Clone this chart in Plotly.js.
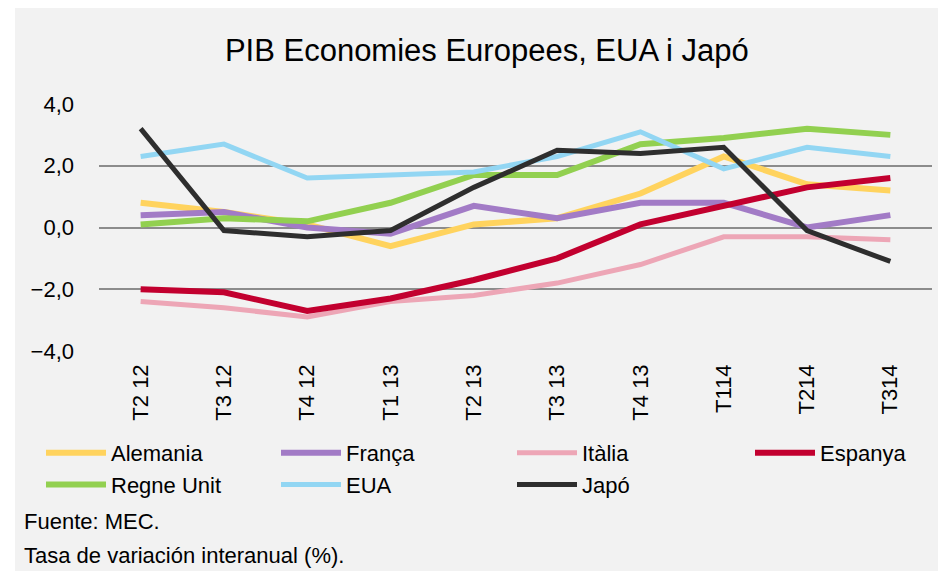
<!DOCTYPE html>
<html>
<head>
<meta charset="utf-8">
<script src="https://cdn.plot.ly/plotly-3.0.1.min.js"></script>
<style>html,body{margin:0;padding:0;background:#fff;}#chart{width:938px;height:571px;}</style>
</head>
<body>
<div id="chart"></div>
<script>
var categories = ['T2 12','T3 12','T4 12','T1 13','T2 13','T3 13','T4 13','T114','T214','T314'];
var seriesNames = ['Alemania','França','Itàlia','Espanya','Regne Unit','EUA','Japó'];
var alemania = [0.8, 0.5, 0.1, -0.6, 0.1, 0.3, 1.1, 2.3, 1.4, 1.2];
var franca   = [0.4, 0.5, 0.0, -0.2, 0.7, 0.3, 0.8, 0.8, 0.0, 0.4];
var italia   = [-2.4, -2.6, -2.9, -2.4, -2.2, -1.8, -1.2, -0.3, -0.3, -0.4];
var espanya  = [-2.0, -2.1, -2.7, -2.3, -1.7, -1.0, 0.1, 0.7, 1.3, 1.6];
var regneUnit= [0.1, 0.3, 0.2, 0.8, 1.7, 1.7, 2.7, 2.9, 3.2, 3.0];
var eua      = [2.3, 2.7, 1.6, 1.7, 1.8, 2.3, 3.1, 1.9, 2.6, 2.3];
var japo     = [3.2, -0.1, -0.3, -0.1, 1.3, 2.5, 2.4, 2.6, -0.1, -1.1];
var yTicks = [-4, -2, 0, 2, 4];

var values = [alemania, franca, italia, espanya, regneUnit, eua, japo];
var colors = ['#FFD35E', '#A27BC6', '#EDA6B6', '#C2002F', '#92D050', '#92D6F3', '#2E2E2E'];
var widths = [6, 6, 5, 6, 6, 5, 5];
// legend column of each series (4 columns, 2 rows as in the reference)
var legendIds = ['legend', 'legend2', 'legend3', 'legend4', 'legend', 'legend2', 'legend3'];

var FONT = 'Liberation Sans, Arial, sans-serif';

var traces = seriesNames.map(function(name, i){
  return {
    type: 'scatter', mode: 'lines', name: name,
    x: categories, y: values[i],
    line: {color: colors[i], width: widths[i]},
    legend: legendIds[i],
    hoverinfo: 'x+y+name'
  };
});

function legendAt(px) {
  return {
    orientation: 'v',
    x: (px - 99) / 833, xanchor: 'left',
    y: (351 - 432) / 247, yanchor: 'top',
    itemwidth: 60,
    bgcolor: 'rgba(0,0,0,0)',
    borderwidth: 0,
    font: {family: FONT, size: 22, color: '#000'},
    traceorder: 'normal'
  };
}

var layout = {
  width: 938, height: 571,
  margin: {l: 99, r: 6, t: 104, b: 220, pad: 0},
  paper_bgcolor: '#ffffff',
  plot_bgcolor: 'rgba(0,0,0,0)',
  separators: ',.',
  font: {family: FONT, size: 22, color: '#000'},
  title: {
    text: 'PIB Economies Europees, EUA i Japó',
    font: {family: FONT, size: 31, color: '#000'},
    xref: 'container', yref: 'container',
    x: 0.519, xanchor: 'center',
    y: 0.912, yanchor: 'middle'
  },
  xaxis: {
    type: 'category',
    range: [-0.5, 9.5],
    tickangle: -90,
    showgrid: false, zeroline: false, showline: false,
    ticks: '',
    ticklabelstandoff: 8,
    tickfont: {family: FONT, size: 22, color: '#000'}
  },
  yaxis: {
    range: [-4, 4],
    tickvals: yTicks,
    tickformat: '.1f',
    showgrid: true, gridcolor: '#8C8C8C', gridwidth: 1.6,
    zeroline: false, showline: false, ticks: '',
    ticklabelstandoff: 24,
    tickfont: {family: FONT, size: 22, color: '#000'}
  },
  showlegend: true,
  legend: legendAt(41),
  legend2: legendAt(276),
  legend3: legendAt(512),
  legend4: legendAt(750),
  shapes: [{
    type: 'rect', xref: 'paper', yref: 'paper', layer: 'below',
    x0: (15 - 99) / 833, x1: (940 - 99) / 833,
    y0: (351 - 575) / 247, y1: (351 - 8) / 247,
    fillcolor: '#F2F2F2', line: {width: 0}
  }],
  annotations: [
    {text: 'Fuente: MEC.', xref: 'paper', yref: 'paper', x: (22 - 99) / 833, y: (351 - 521) / 247,
     xanchor: 'left', yanchor: 'middle', showarrow: false, font: {family: FONT, size: 22, color: '#000'}},
    {text: 'Tasa de variación interanual (%).', xref: 'paper', yref: 'paper', x: (22 - 99) / 833, y: (351 - 555) / 247,
     xanchor: 'left', yanchor: 'middle', showarrow: false, font: {family: FONT, size: 22, color: '#000'}}
  ]
};

Plotly.newPlot('chart', traces, layout, {displayModeBar: false, responsive: false});
</script>
</body>
</html>
